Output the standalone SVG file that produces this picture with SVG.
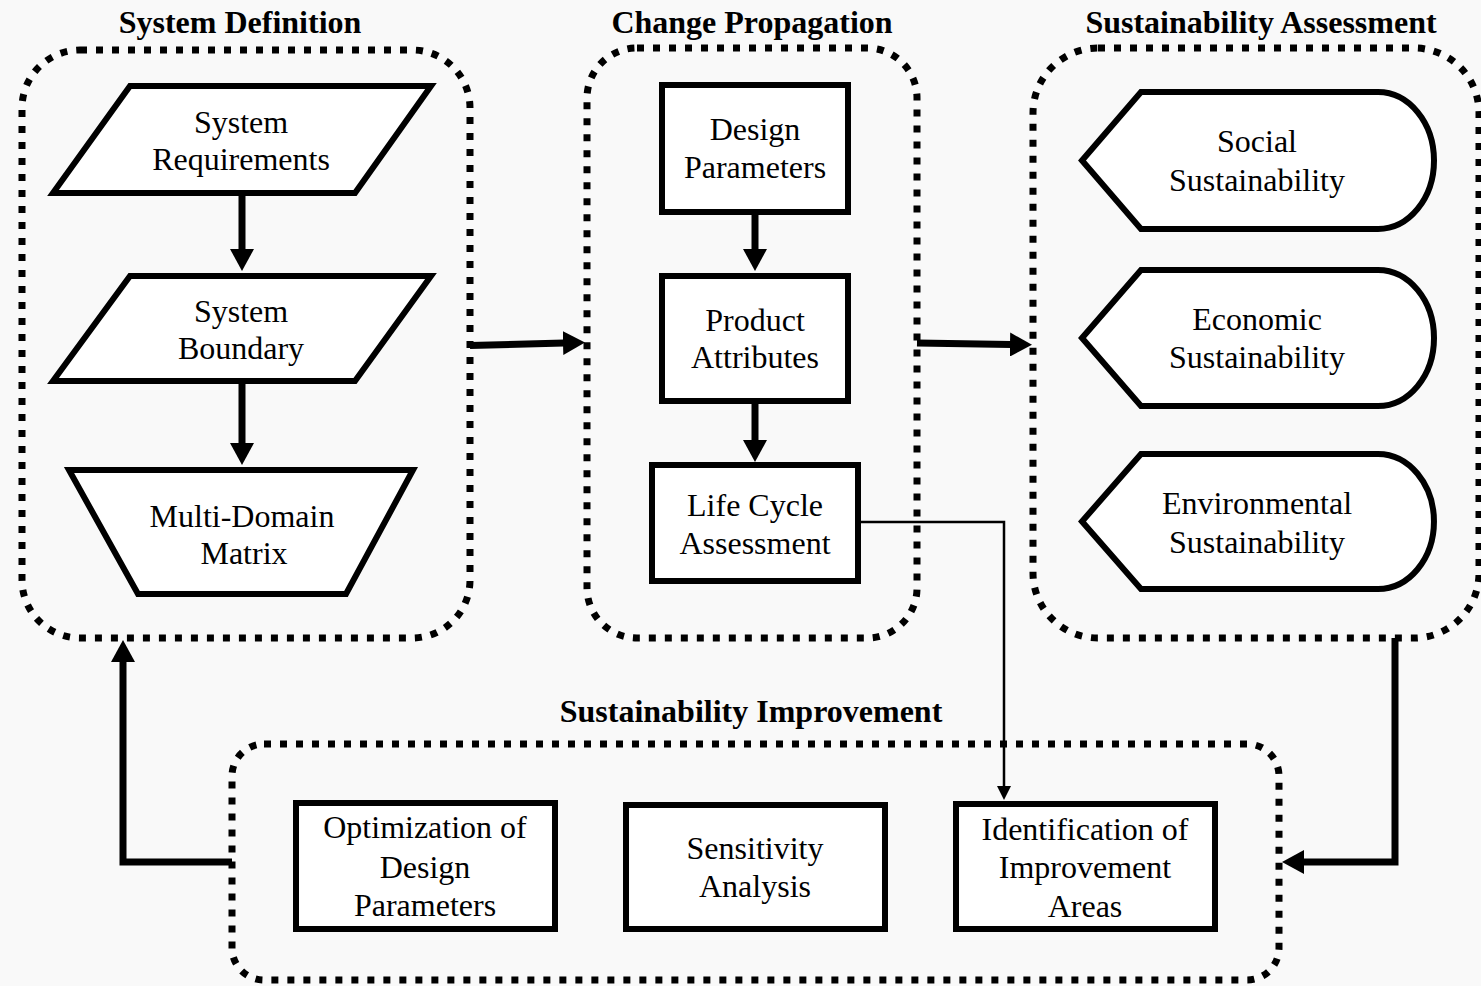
<svg xmlns="http://www.w3.org/2000/svg" width="1481" height="986" viewBox="0 0 1481 986">
  <style>
    .bg { fill: #f9f9f9; }
    .group { fill: none; stroke: #000; stroke-width: 7; stroke-dasharray: 7 9; }
    .shape { fill: #fff; stroke: #000; stroke-width: 6; stroke-linejoin: miter; }
    .title { font-family: "Liberation Serif", "Times New Roman", serif; font-weight: bold; font-size: 32px; text-anchor: middle; fill: #000; }
    .label { font-family: "Liberation Serif", "Times New Roman", serif; font-size: 32px; text-anchor: middle; fill: #000; }
    .thick { fill: none; stroke: #000; stroke-width: 7; stroke-linejoin: miter; marker-end: url(#headBig); }
    .thin { fill: none; stroke: #000; stroke-width: 2.5; marker-end: url(#headSmall); }
  </style>
  <defs>
    <marker id="headBig" markerUnits="userSpaceOnUse" viewBox="0 0 22 24" markerWidth="22" markerHeight="24" refX="1" refY="12" orient="auto">
      <path d="M0,0 L22,12 L0,24 Z" fill="#000"/>
    </marker>
    <marker id="headSmall" markerUnits="userSpaceOnUse" viewBox="0 0 14 14" markerWidth="14" markerHeight="14" refX="1" refY="7" orient="auto">
      <path d="M0,0 L14,7 L0,14 Z" fill="#000"/>
    </marker>
  </defs>

  <rect class="bg" x="0" y="0" width="1481" height="986"/>

  <!-- stage containers -->
  <g id="system-definition">
    <rect class="group" x="22" y="50" width="448" height="588" rx="58" ry="58"/>
    <text class="title" x="240" y="33">System Definition</text>
  </g>
  <g id="change-propagation">
    <rect class="group" x="587" y="48" width="330" height="590" rx="50" ry="50"/>
    <text class="title" x="752" y="33">Change Propagation</text>
  </g>
  <g id="sustainability-assessment">
    <rect class="group" x="1033" y="48" width="446" height="590" rx="65" ry="65"/>
    <text class="title" x="1261" y="33">Sustainability Assessment</text>
  </g>
  <g id="sustainability-improvement">
    <rect class="group" x="232" y="744" width="1047" height="236" rx="32" ry="32"/>
    <text class="title" x="751" y="722">Sustainability Improvement</text>
  </g>

  <!-- System Definition nodes -->
  <g id="system-requirements">
    <polygon class="shape" points="130,86 431,86 355,193 53,193"/>
    <text class="label" x="241" y="133">System</text>
    <text class="label" x="241" y="170">Requirements</text>
  </g>
  <g id="system-boundary">
    <polygon class="shape" points="130,276 431,276 355,381 53,381"/>
    <text class="label" x="241" y="322">System</text>
    <text class="label" x="241" y="359">Boundary</text>
  </g>
  <g id="multi-domain-matrix">
    <polygon class="shape" points="69,470 413,470 346,594 138,594"/>
    <text class="label" x="242" y="527">Multi-Domain</text>
    <text class="label" x="244" y="564">Matrix</text>
  </g>

  <!-- Change Propagation nodes -->
  <g id="design-parameters">
    <rect class="shape" x="662" y="85" width="186" height="127"/>
    <text class="label" x="755" y="140">Design</text>
    <text class="label" x="755" y="178">Parameters</text>
  </g>
  <g id="product-attributes">
    <rect class="shape" x="662" y="276" width="186" height="125"/>
    <text class="label" x="755" y="331">Product</text>
    <text class="label" x="755" y="368">Attributes</text>
  </g>
  <g id="life-cycle-assessment">
    <rect class="shape" x="652" y="465" width="206" height="116"/>
    <text class="label" x="755" y="516">Life Cycle</text>
    <text class="label" x="755" y="554">Assessment</text>
  </g>

  <!-- Sustainability Assessment nodes -->
  <g id="social-sustainability">
    <path class="shape" d="M1082,160.5 L1141,92 L1378,92 A56,68.5 0 0 1 1378,229 L1141,229 Z"/>
    <text class="label" x="1257" y="152">Social</text>
    <text class="label" x="1257" y="191">Sustainability</text>
  </g>
  <g id="economic-sustainability">
    <path class="shape" d="M1082,338 L1141,270 L1378,270 A56,68 0 0 1 1378,406 L1141,406 Z"/>
    <text class="label" x="1257" y="330">Economic</text>
    <text class="label" x="1257" y="368">Sustainability</text>
  </g>
  <g id="environmental-sustainability">
    <path class="shape" d="M1082,521.5 L1141,454 L1378,454 A56,67.5 0 0 1 1378,589 L1141,589 Z"/>
    <text class="label" x="1257" y="514">Environmental</text>
    <text class="label" x="1257" y="553">Sustainability</text>
  </g>

  <!-- Sustainability Improvement nodes -->
  <g id="optimization">
    <rect class="shape" x="296" y="803" width="259" height="126"/>
    <text class="label" x="425" y="838">Optimization of</text>
    <text class="label" x="425" y="878">Design</text>
    <text class="label" x="425" y="916">Parameters</text>
  </g>
  <g id="sensitivity-analysis">
    <rect class="shape" x="626" y="805" width="259" height="124"/>
    <text class="label" x="755" y="859">Sensitivity</text>
    <text class="label" x="755" y="897">Analysis</text>
  </g>
  <g id="identification">
    <rect class="shape" x="956" y="804" width="259" height="125"/>
    <text class="label" x="1085" y="840">Identification of</text>
    <text class="label" x="1085" y="878">Improvement</text>
    <text class="label" x="1085" y="917">Areas</text>
  </g>

  <!-- connectors -->
  <g id="connectors">
    <path class="thick" d="M242,194 L242,250"/>
    <path class="thick" d="M242,383 L242,444"/>
    <path class="thick" d="M755,213 L755,250"/>
    <path class="thick" d="M755,402 L755,441"/>
    <path class="thick" d="M470,345.5 L564,343"/>
    <path class="thick" d="M917,343 L1011,344.5"/>
    <path class="thick" d="M1395,638 L1395,862 L1303,862"/>
    <path class="thick" d="M232,862 L123,862 L123,661"/>
    <path class="thin" d="M858,522 L1004,522 L1004,787"/>
  </g>
</svg>
